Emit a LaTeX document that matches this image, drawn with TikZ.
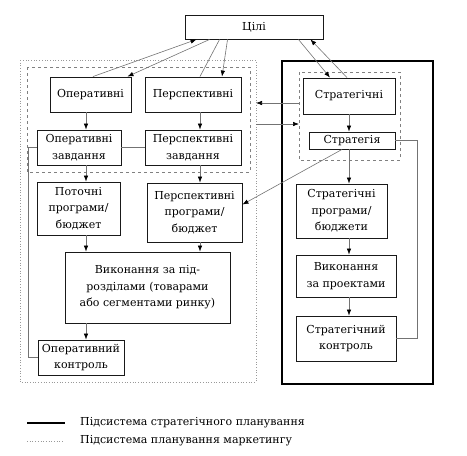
\documentclass[tikz,border=0pt]{standalone}
\usepackage{fontspec}
\setmainfont{DejaVu Serif}
\usepackage{tikz}
\usetikzlibrary{arrows.meta}

\begin{document}
\begin{tikzpicture}[x=1pt, y=-1pt,
    blk/.style={draw=black!90, line width=0.9pt, rectangle, align=center, inner sep=1pt,
        font={\fontsize{11}{16.5}\selectfont}},
    conn/.style={draw=black!55, line width=0.6pt},
    arr/.style={conn, -{Latex[length=6pt, width=4.5pt, color=black]}},
    zone/.style={draw=black!50, line width=0.7pt, dashed},
    mzone/.style={draw=black!40, line width=0.7pt, dotted}]
                    \useasboundingbox (0,0) rectangle (467,456);
                    % regions
                    \draw[mzone] (20,60) rectangle (256,382);
                    \draw[zone] (27,67) rectangle (250,172);
                    \draw[black, line width=1.5pt] (282,61) rectangle (433,384);
                    \draw[zone] (299,72) rectangle (400,160);
                    % columns
                    \coordinate (colL) at (86,0);
                    \coordinate (colM) at (200,0);
                    \coordinate (colR) at (349,0);
                    \coordinate (fbL) at (28,0);
                    \coordinate (fbR) at (417,0);
                    % boxes
                    \node[blk, minimum width=138pt, minimum height=24pt] (cili) at (254,27) {Цілі};
                    \node[blk, minimum width=81pt, minimum height=35pt] (oper) at (90.5,94.5) {Оперативні};
                    \node[blk, minimum width=96pt, minimum height=35pt] (persp) at (193,94.5) {Перспективні};
                    \node[blk, minimum width=84pt, minimum height=35pt] (operz) at (79,147.5) {Оперативні\\завдання};
                    \node[blk, minimum width=96pt, minimum height=35pt] (perspz) at (193,147.5) {Перспективні\\завдання};
                    \node[blk, minimum width=92pt, minimum height=36pt] (strat) at (349,96) {Стратегічні};
                    \node[blk, minimum width=86pt, minimum height=17pt] (strg) at (352,140.5) {Стратегія};
                    \node[blk, minimum width=83pt, minimum height=53pt] (potp) at (78.5,208.5) {Поточні\\програми/\\бюджет};
                    \node[blk, minimum width=95pt, minimum height=59pt] (perspp) at (194.5,212.5) {Перспективні\\програми/\\бюджет};
                    \node[blk, minimum width=165pt, minimum height=71pt] (vyk) at (147.5,287.5) {Виконання за під-\\розділами (товарами\\або сегментами ринку)};
                    \node[blk, minimum width=86pt, minimum height=35pt] (operk) at (81,357.5) {Оперативний\\контроль};
                    \node[blk, minimum width=91pt, minimum height=54pt] (stratp) at (341.5,211) {Стратегічні\\програми/\\бюджети};
                    \node[blk, minimum width=100pt, minimum height=42pt] (vykp) at (346,276) {Виконання\\за проектами};
                    \node[blk, minimum width=100pt, minimum height=45pt] (stratk) at (346,338.5) {Стратегічний\\контроль};
                    % links with goals
                    \draw[arr] ([xshift=2.5pt]oper.north) -- ([xshift=12pt]cili.south west);
                    \draw[arr] ([xshift=25pt]cili.south west) -- ([xshift=-4pt]oper.north east);
                    \draw[conn] ([xshift=7pt]persp.north) -- ([xshift=35pt]cili.south west);
                    \draw[arr] ([xshift=43pt]cili.south west) -- ([xshift=29pt]persp.north);
                    \draw[arr] ([xshift=-25pt]cili.south east) -- ([xshift=-19pt]strat.north);
                    \draw[arr] ([xshift=-2pt]strat.north) -- ([xshift=-13pt]cili.south east);
                    % left chain
                    \draw[arr] (oper.south -| colL) -- (operz.north -| colL);
                    \draw[arr] (operz.south -| colL) -- (potp.north -| colL);
                    \draw[arr] (potp.south -| colL) -- (vyk.north -| colL);
                    \draw[arr] (vyk.south -| colL) -- (operk.north -| colL);
                    \draw[arr] (persp.south -| colM) -- (perspz.north -| colM);
                    \draw[arr] (perspz.south -| colM) -- (perspp.north -| colM);
                    \draw[arr] (perspp.south -| colM) -- (vyk.north -| colM);
                    \draw[conn] (operz.east) -- (perspz.west);
                    \draw[conn] (operk.west) -| (fbL |- operz.west) -- (operz.west);
                    % right chain
                    \draw[arr] (strat.south -| colR) -- (strg.north -| colR);
                    \draw[arr] (strg.south -| colR) -- (stratp.north -| colR);
                    \draw[arr] (stratp.south -| colR) -- (vykp.north -| colR);
                    \draw[arr] (vykp.south -| colR) -- (stratk.north -| colR);
                    \draw[conn] (strg.east) -| (fbR |- stratk.east) -- (stratk.east);
                    \draw[arr] ([xshift=-10pt]strg.south) -- ([yshift=8pt]perspp.east);
                    % between subsystems
                    \coordinate (rz1) at (299,103);
                    \coordinate (lz1) at (256,103);
                    \coordinate (rz2) at (299,124);
                    \coordinate (lz2) at (256,124);
                    \draw[arr] (rz1) -- (lz1);
                    \draw[arr] (lz2) -- (rz2);
                    % legend
                    \coordinate (lg1a) at (27,423);
                    \coordinate (lg1b) at (65,423);
                    \coordinate (lg2a) at (27,441);
                    \coordinate (lg2b) at (63,441);
                    \draw[black, line width=1.5pt] (lg1a) -- (lg1b);
                    \draw[mzone] (lg2a) -- (lg2b);
                    \node[anchor=west, inner sep=0pt, font={\fontsize{11}{12}\selectfont}] (lgt1) at (80,423) {Підсистема стратегічного планування};
                    \node[anchor=west, inner sep=0pt, font={\fontsize{11}{12}\selectfont}] (lgt2) at (80,441) {Підсистема планування маркетингу};
                \end{tikzpicture}
\end{document}
